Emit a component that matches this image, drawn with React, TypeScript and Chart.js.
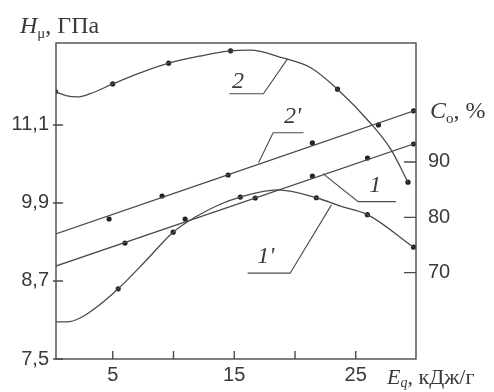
import React, { useEffect, useRef } from "react";
import { Chart, registerables } from "chart.js";

Chart.register(...registerables);

// ---- axis ticks ----
const xTickValues = [5, 10, 15, 20, 25];
const xTickLabelled = [5, 15, 25];
const hTickValues = [7.5, 8.7, 9.9, 11.1];
const cTickValues = [70, 80, 90];

// ---- curve 2 (H_mu, left axis) ----
const c2MarkX = [0.3, 5.0, 9.6, 14.7, 23.5, 29.3];
const c2MarkY = [11.61, 11.73, 12.05, 12.24, 11.65, 10.22];
const c2FitX = [0.3, 1.15, 2.06, 3.14, 5.0, 7.25, 9.6, 12.2, 14.7, 16.3, 19.0, 21.3, 23.5, 26.2, 27.9, 29.3];
const c2FitY = [11.61, 11.55, 11.53, 11.58, 11.73, 11.9, 12.05, 12.16, 12.24, 12.25, 12.13, 11.98, 11.65, 11.13, 10.72, 10.22];

// ---- curve 1' (H_mu, left axis) ----
const c1pMarkX = [5.45, 9.97, 15.5, 21.76, 25.96, 29.76];
const c1pMarkY = [8.58, 9.45, 9.99, 9.98, 9.72, 9.22];
const c1pFitX = [0.3, 1.23, 2.31, 3.55, 5.45, 7.67, 9.97, 11.95, 13.85, 15.5, 18.55, 21.76, 23.74, 25.96, 29.76];
const c1pFitY = [8.07, 8.07, 8.13, 8.28, 8.58, 9.0, 9.45, 9.7, 9.88, 9.99, 10.1, 9.98, 9.85, 9.72, 9.22];

// ---- line 2' (C_o, right axis) ----
const l2pMarkX = [4.7, 9.06, 14.5, 21.43, 26.87, 29.76];
const l2pMarkY = [79.7, 83.85, 87.65, 93.44, 96.69, 99.22];
const l2pFitX = [0.3, 30];
const l2pFitY = [76.98, 99.4];

// ---- line 1 (C_o, right axis) ----
const l1MarkX = [6.01, 10.96, 16.73, 21.43, 25.97, 29.76];
const l1MarkY = [75.35, 79.69, 83.49, 87.47, 90.72, 93.25];
const l1FitX = [0.3, 30];
const l1FitY = [71.19, 93.44];

// ---- curve labels with leader lines (data units, left axis) ----
const labelTexts = ["2", "2'", "1", "1'"];
const labelX = [15.3, 19.8, 26.6, 17.6];
const labelY = [11.76, 11.22, 10.16, 9.07];
const leaderXs = [[14.6, 17.4, 19.4], [20.7, 18.2, 17.0], [28.3, 25.2, 22.3], [16.1, 19.6, 23.0]];
const leaderYs = [[11.58, 11.58, 12.12], [10.98, 10.98, 10.52], [9.92, 9.92, 10.35], [8.82, 8.82, 9.87]];

const pts = (xs: number[], ys: number[]) => xs.map((x, i) => ({ x, y: ys[i] }));

const LINE = "#4a4a4a";
const DOT = "#222";
const TEXT = "#3a3a3a";

type Part = { t: string; font: string; dy?: number };
function drawRich(ctx: CanvasRenderingContext2D, parts: Part[], x: number, y: number) {
  let cx = x;
  ctx.textAlign = "left";
  ctx.textBaseline = "alphabetic";
  for (const p of parts) {
    ctx.font = p.font;
    ctx.fillText(p.t, cx, y + (p.dy || 0));
    cx += ctx.measureText(p.t).width;
  }
}

const decor = {
  id: "decor",
  afterDraw(chart: any) {
    const { ctx, chartArea: a, scales } = chart;
    const xs = scales.x, hs = scales.h, cs = scales.c;
    ctx.save();
    ctx.strokeStyle = LINE;
    ctx.lineWidth = 1.4;
    ctx.strokeRect(a.left, a.top, a.right - a.left, a.bottom - a.top);
    ctx.beginPath();
    xTickValues.forEach((v) => {
      const px = xs.getPixelForValue(v);
      ctx.moveTo(px, a.bottom);
      ctx.lineTo(px, a.bottom - 8);
    });
    hTickValues.forEach((v) => {
      const py = hs.getPixelForValue(v);
      ctx.moveTo(a.left - 3, py);
      ctx.lineTo(a.left + 7, py);
    });
    cTickValues.forEach((v) => {
      const py = cs.getPixelForValue(v);
      ctx.moveTo(a.right, py);
      ctx.lineTo(a.right - 12, py);
    });
    ctx.stroke();

    // leader lines
    ctx.lineWidth = 1.1;
    leaderXs.forEach((lx, i) => {
      ctx.beginPath();
      lx.forEach((xv, j) => {
        const px = xs.getPixelForValue(xv);
        const py = hs.getPixelForValue(leaderYs[i][j]);
        if (j === 0) ctx.moveTo(px, py);
        else ctx.lineTo(px, py);
      });
      ctx.stroke();
    });

    ctx.fillStyle = TEXT;
    ctx.font = 'italic 24px "Liberation Serif"';
    ctx.textAlign = "center";
    ctx.textBaseline = "middle";
    labelTexts.forEach((t, i) => {
      ctx.fillText(t, xs.getPixelForValue(labelX[i]), hs.getPixelForValue(labelY[i]));
    });

    // axis titles
    const serif = '"Liberation Serif"';
    drawRich(ctx, [
      { t: "H", font: `italic 24px ${serif}` },
      { t: "μ", font: `15px ${serif}`, dy: 5 },
      { t: ", ГПа", font: `24px ${serif}` },
    ], a.left - 36, a.top - 10);
    drawRich(ctx, [
      { t: "C", font: `italic 24px ${serif}` },
      { t: "o", font: `15px ${serif}`, dy: 5 },
      { t: ", %", font: `24px ${serif}` },
    ], a.right + 14, 118);
    drawRich(ctx, [
      { t: "E", font: `italic 22px ${serif}` },
      { t: "q", font: `italic 14px ${serif}`, dy: 3 },
      { t: ", кДж/г", font: `22px ${serif}` },
    ], 387, 384);
    ctx.restore();
  },
};

export default function App() {
  const ref = useRef<HTMLCanvasElement | null>(null);
  useEffect(() => {
    if (!ref.current) return;
    const lineDs = (label: string, data: any[], axis: string) => ({
      label,
      data,
      yAxisID: axis,
      showLine: true,
      borderColor: LINE,
      borderWidth: 1.3,
      pointRadius: 0,
      fill: false,
      cubicInterpolationMode: "monotone" as const,
    });
    const dotDs = (label: string, data: any[], axis: string) => ({
      label,
      data,
      yAxisID: axis,
      showLine: false,
      pointRadius: 2.6,
      pointBackgroundColor: DOT,
      pointBorderColor: DOT,
      pointBorderWidth: 0,
    });
    const tickFont = { family: '"Liberation Sans", Arial, sans-serif', size: 20 };
    const chart = new Chart(ref.current, {
      type: "scatter",
      data: {
        datasets: [
          lineDs("2 fit", pts(c2FitX, c2FitY), "h"),
          dotDs("2", pts(c2MarkX, c2MarkY), "h"),
          lineDs("1' fit", pts(c1pFitX, c1pFitY), "h"),
          dotDs("1'", pts(c1pMarkX, c1pMarkY), "h"),
          lineDs("2' fit", pts(l2pFitX, l2pFitY), "c"),
          dotDs("2'", pts(l2pMarkX, l2pMarkY), "c"),
          lineDs("1 fit", pts(l1FitX, l1FitY), "c"),
          dotDs("1", pts(l1MarkX, l1MarkY), "c"),
        ],
      },
      options: {
        animation: false,
        responsive: false,
        layout: { padding: { top: 43, left: 0, right: 0, bottom: 0 } },
        plugins: { legend: { display: false }, tooltip: { enabled: false } },
        scales: {
          x: {
            type: "linear",
            min: 0.33,
            max: 29.96,
            grid: { display: false, drawTicks: false },
            border: { display: false },
            afterBuildTicks: (s: any) => { s.ticks = xTickValues.map((v) => ({ value: v })); },
            afterFit: (s: any) => { s.height = 33; },
            ticks: {
              autoSkip: false,
              maxRotation: 0,
              padding: 4,
              color: TEXT,
              font: tickFont,
              callback: (v: any) => (xTickLabelled.includes(Number(v)) ? String(v) : ""),
            },
          },
          h: {
            type: "linear",
            position: "left",
            min: 7.5,
            max: 12.36,
            grid: { display: false, drawTicks: false },
            border: { display: false },
            afterBuildTicks: (s: any) => { s.ticks = hTickValues.map((v) => ({ value: v })); },
            afterFit: (s: any) => { s.width = 56; },
            ticks: {
              autoSkip: false,
              padding: 7,
              color: TEXT,
              font: tickFont,
              callback: (v: any) => Number(v).toFixed(1).replace(".", ","),
            },
          },
          c: {
            type: "linear",
            position: "right",
            min: 54.4,
            max: 111.5,
            grid: { display: false, drawTicks: false },
            border: { display: false },
            afterBuildTicks: (s: any) => { s.ticks = cTickValues.map((v) => ({ value: v })); },
            afterFit: (s: any) => { s.width = 78; },
            ticks: {
              autoSkip: false,
              padding: 12,
              color: TEXT,
              font: tickFont,
              callback: (v: any) => String(v),
            },
          },
        },
      },
      plugins: [decor],
    });
    return () => chart.destroy();
  }, []);
  return (
    <div style={{ position: "absolute", left: 0, top: 0, width: 494, height: 392, background: "#fff" }}>
      <canvas ref={ref} width={494} height={392} style={{ display: "block" }} />
    </div>
  );
}
